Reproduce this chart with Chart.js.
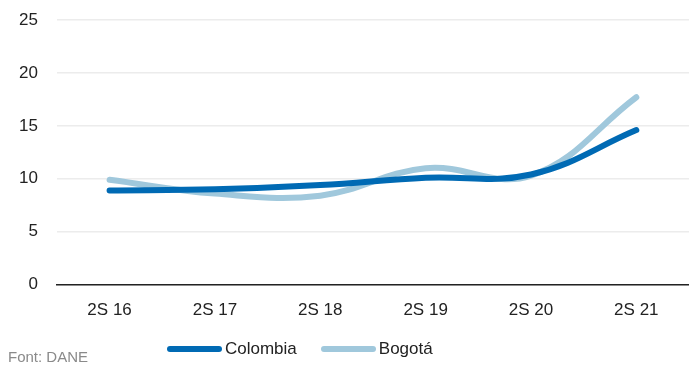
<!DOCTYPE html>
<html>
<head>
<meta charset="utf-8">
<script src="https://cdn.jsdelivr.net/npm/chart.js@4"></script>
<style>
  body { margin: 0; background: #fff; }
  #wrap { position: relative; width: 689px; height: 366px; }
  #source { position: absolute; left: 8px; top: 348px; font: 15px "Liberation Sans Narrow", "Liberation Sans", sans-serif; color: #8a8a8a; }
  #legend { position: absolute; left: 167px; top: 339px; font: 17px "Liberation Sans Narrow", "Liberation Sans", sans-serif; color: #222; display: flex; }
  #legend span.item { display: flex; align-items: center; margin-right: 24px; }
  #legend span.line { display: inline-block; width: 55px; height: 6px; border-radius: 3px; margin-right: 3px; }
</style>
</head>
<body>
<div id="wrap">
  <canvas id="chart" width="689" height="366"></canvas>
  <div id="legend"></div>
  <div id="source">Font: DANE</div>
</div>
<script>
// periodes semestrals
var periodes = ["2S 16", "2S 17", "2S 18", "2S 19", "2S 20", "2S 21"];
var colombia = [8.9, 9.0, 9.4, 10.1, 10.4, 14.6];
var bogota = [9.9, 8.6, 8.4, 11.0, 10.3, 17.7];
var yTicks = [0, 5, 10, 15, 20, 25];

var fontFamily = '"Liberation Sans Narrow", "Liberation Sans", sans-serif';

var ctx = document.getElementById("chart").getContext("2d");
var grafic = new Chart(ctx, {
  type: "line",
  data: {
    labels: periodes,
    datasets: [{
      label: "Colombia",
      data: colombia,
      borderColor: "#006ab4",
      backgroundColor: "#006ab4",
      borderWidth: 6,
      tension: 0.4,
      pointRadius: 0,
      borderCapStyle: "round"
    }, {
      label: "Bogotá",
      data: bogota,
      borderColor: "#a0c8dc",
      backgroundColor: "#a0c8dc",
      borderWidth: 6,
      tension: 0.4,
      pointRadius: 0,
      borderCapStyle: "round"
    }]
  },
  options: {
    responsive: false,
    animation: false,
    layout: { padding: { top: 20, right: 0, bottom: 37, left: 0 } },
    plugins: {
      legend: { display: false },
      tooltip: { enabled: false }
    },
    scales: {
      x: {
        offset: true,
        grid: { display: false },
        border: { display: true, color: "#222", width: 1.5 },
        ticks: { color: "#222", font: { family: fontFamily, size: 17 }, padding: 8 }
      },
      y: {
        min: 0,
        max: 25,
        afterBuildTicks: function (axis) {
          axis.ticks = yTicks.map(function (v) { return { value: v }; });
        },
        // el padding de les etiquetes no ha d'empenyer l'area cap avall
        afterFit: function (axis) {
          axis.paddingTop = 10;
          axis.paddingBottom = 10;
        },
        grid: { color: "#ececec", lineWidth: 1.5, drawTicks: false },
        border: { display: false },
        ticks: { color: "#222", font: { family: fontFamily, size: 17 }, padding: 19 }
      }
    }
  }
});

// llegenda
var leg = document.getElementById("legend");
grafic.data.datasets.forEach(function (ds) {
  var item = document.createElement("span");
  item.className = "item";
  var ln = document.createElement("span");
  ln.className = "line";
  ln.style.background = ds.borderColor;
  item.appendChild(ln);
  item.appendChild(document.createTextNode(ds.label));
  leg.appendChild(item);
});
</script>
</body>
</html>
